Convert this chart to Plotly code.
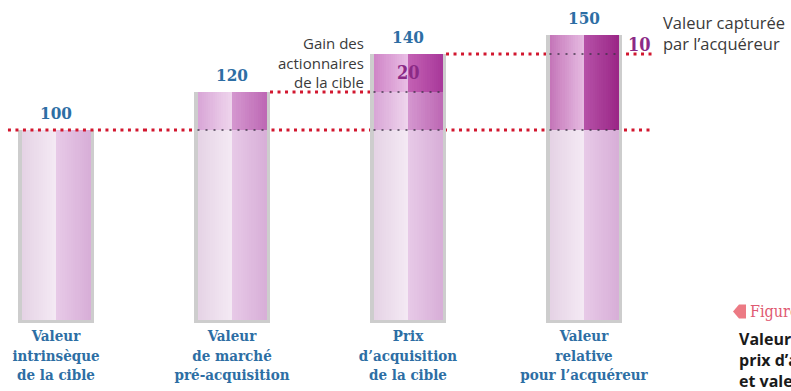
import plotly.graph_objects as go

# ---- data -------------------------------------------------------------
categories = [
    "Valeur<br>intrinsèque<br>de la cible",
    "Valeur<br>de marché<br>pré-acquisition",
    "Prix<br>d’acquisition<br>de la cible",
    "Valeur<br>relative<br>pour l’acquéreur",
]
values = [100, 120, 140, 150]
gain_note = "Gain des<br>actionnaires<br>de la cible"
captured_note = "Valeur capturée<br>par l’acquéreur"
caption_kicker = "Figure 1"
caption_title = "Valeur intrinsèque,<br>prix d’acquisition<br>et valeur relative"

# ---- style ------------------------------------------------------------
SLAB = "DejaVu Serif Condensed, DejaVu Serif, serif"
SANS = "Open Sans, Noto Sans, sans-serif"
BLUE = "#2d6ea4"
PURPLE = "#8b2a86"
RED = "#d2172f"

OUTER_W = 0.432        # glass tube width (x units)
INNER_W = 0.392        # coloured fill width
N_STRIPS = 16          # strips per half, to fake a horizontal gradient

# (left half: edge -> centre), (right half: centre -> edge)
TONES = {
    "base":     (("#e5d2e5", "#f4eaf4"), ("#e8cae8", "#d7aed7")),
    "prime":    (("#d8a4d6", "#efd6ed"), ("#d598d0", "#bd68b4")),
    "gain":     (("#cf84c6", "#e9bee5"), ("#c462b4", "#a8389a")),
    "relative": (("#c474b8", "#e6bce2"), ("#b652a8", "#9a2686")),
}


def hex_rgb(h):
    h = h.lstrip("#")
    return tuple(int(h[i:i + 2], 16) for i in (0, 2, 4))


def lerp(c0, c1, t):
    a, b = hex_rgb(c0), hex_rgb(c1)
    return "rgb(%d,%d,%d)" % tuple(round(a[i] + (b[i] - a[i]) * t) for i in range(3))


# stacked pieces of every tube: (bar index, bottom, top, tone)
segments = [(i, 0, values[0], "base") for i in range(len(values))]
segments += [
    (1, values[0], values[1], "prime"),
    (2, values[0], values[1], "prime"),
    (2, values[1], values[2], "gain"),
    (3, values[0], values[3], "relative"),
]

xs = list(range(len(values)))
fig = go.Figure()

# grey glass tube behind each column
fig.add_trace(go.Bar(
    x=xs, y=[v + 1.6 for v in values], base=-1.6, width=OUTER_W,
    marker=dict(color="#cdcdcd", line=dict(width=0)), hoverinfo="skip",
))

# coloured fill, built from thin vertical strips
half = INNER_W / 2
strip = half / N_STRIPS
for h in range(2):
    for k in range(N_STRIPS):
        t = (k + 0.5) / N_STRIPS
        cols = []
        for (_, y0, y1, tone) in segments:
            c0, c1 = TONES[tone][h]
            cols.append(lerp(c0, c1, t))
        fig.add_trace(go.Bar(
            x=[s[0] for s in segments],
            y=[s[2] - s[1] for s in segments],
            base=[s[1] for s in segments],
            offset=-half + h * half + k * strip,
            width=strip * 1.15,
            marker=dict(color=cols, line=dict(width=0)),
            hoverinfo="skip",
        ))

# ---- reference lines ----------------------------------------------------
RED_DASH = "3px,4.5px"
GREY_DASH = "2px,6px"
GREY = "rgba(60,50,70,0.7)"
x_left, x_right = -0.273, 3.392
shapes = []


def hline(x0, x1, y, color, dash, width, layer):
    shapes.append(dict(type="line", xref="x", yref="y", x0=x0, x1=x1, y0=y, y1=y,
                       line=dict(color=color, width=width, dash=dash), layer=layer))


hline(x_left, 0.5, values[0], RED, RED_DASH, 3, "above")
hline(0.5, x_right, values[0], RED, RED_DASH, 3, "below")
hline(1 + OUTER_W / 2, 2 + OUTER_W / 2, values[1], RED, RED_DASH, 3, "below")
hline(2 + OUTER_W / 2, x_right, values[2], RED, RED_DASH, 3, "below")
# dotted marks seen through the tubes
for i in (1, 2, 3):
    hline(i - INNER_W / 2, i + INNER_W / 2, values[0], GREY, GREY_DASH, 2, "above")
hline(2 - INNER_W / 2, 2 + INNER_W / 2, values[1], GREY, GREY_DASH, 2, "above")
hline(3 - INNER_W / 2, 3 + INNER_W / 2, values[2], GREY, GREY_DASH, 2, "above")

# caption marker (small left-pointing tab)
W, PLOT_H = 791, 325
px = lambda p: p / W
py = lambda p: (PLOT_H - p) / PLOT_H
shapes.append(dict(
    type="path", xref="paper", yref="paper",
    path="M %f,%f L %f,%f L %f,%f L %f,%f L %f,%f Z" % (
        px(733), py(311.5), px(739), py(304.5), px(746), py(304.5),
        px(746), py(318.5), px(739), py(318.5)),
    fillcolor="#ec7a84", line=dict(width=0), layer="above",
))

# ---- labels -------------------------------------------------------------
ann = []
for i, v in enumerate(values):
    ann.append(dict(x=i, y=v, xref="x", yref="y", text="<b>%d</b>" % v, showarrow=False,
                    yanchor="bottom", yshift=5, font=dict(family=SLAB, size=17, color=BLUE)))

ann.append(dict(x=2, y=(values[1] + values[2]) / 2, xref="x", yref="y",
                text="<b>%d</b>" % (values[2] - values[1]), showarrow=False,
                font=dict(family=SLAB, size=18, color=PURPLE)))
ann.append(dict(x=3.318, y=(values[2] + values[3]) / 2, xref="x", yref="y",
                text="<b>%d</b>" % (values[3] - values[2]), showarrow=False,
                font=dict(family=SLAB, size=18, color=PURPLE)))

ann.append(dict(x=px(366), y=py(31), xref="paper", yref="paper", text=gain_note,
                showarrow=False, xanchor="right", yanchor="top", align="right",
                font=dict(family=SANS, size=15, color="#3a3a3a")))
ann.append(dict(x=px(661), y=py(9), xref="paper", yref="paper", text=captured_note,
                showarrow=False, xanchor="left", yanchor="top", align="left",
                font=dict(family=SANS, size=16.5, color="#3a3a3a")))

ann.append(dict(x=px(748), y=py(311), xref="paper", yref="paper", text=caption_kicker,
                showarrow=False, xanchor="left", yanchor="middle",
                font=dict(family=SLAB, size=16, color="#df5a72")))
ann.append(dict(x=px(737), y=py(326), xref="paper", yref="paper", text="<b>%s</b>" % caption_title,
                showarrow=False, xanchor="left", yanchor="top", align="left",
                font=dict(family=SANS, size=16, color="#1a1a1a")))

fig.update_layout(
    width=W, height=391,
    margin=dict(l=0, r=0, t=0, b=391 - PLOT_H),
    paper_bgcolor="white", plot_bgcolor="white",
    barmode="overlay", showlegend=False, bargap=0,
    shapes=shapes, annotations=ann,
    xaxis=dict(range=[-56 / 176, -56 / 176 + W / 176], tickvals=xs, ticktext=["<b>%s</b>" % c for c in categories],
               showgrid=False, zeroline=False, showline=False, ticks="",
               tickfont=dict(family=SLAB, size=15, color=BLUE), fixedrange=True),
    yaxis=dict(range=[168.4 - PLOT_H / 1.9, 168.4], visible=False, fixedrange=True),
)

fig.write_html("out.html")
